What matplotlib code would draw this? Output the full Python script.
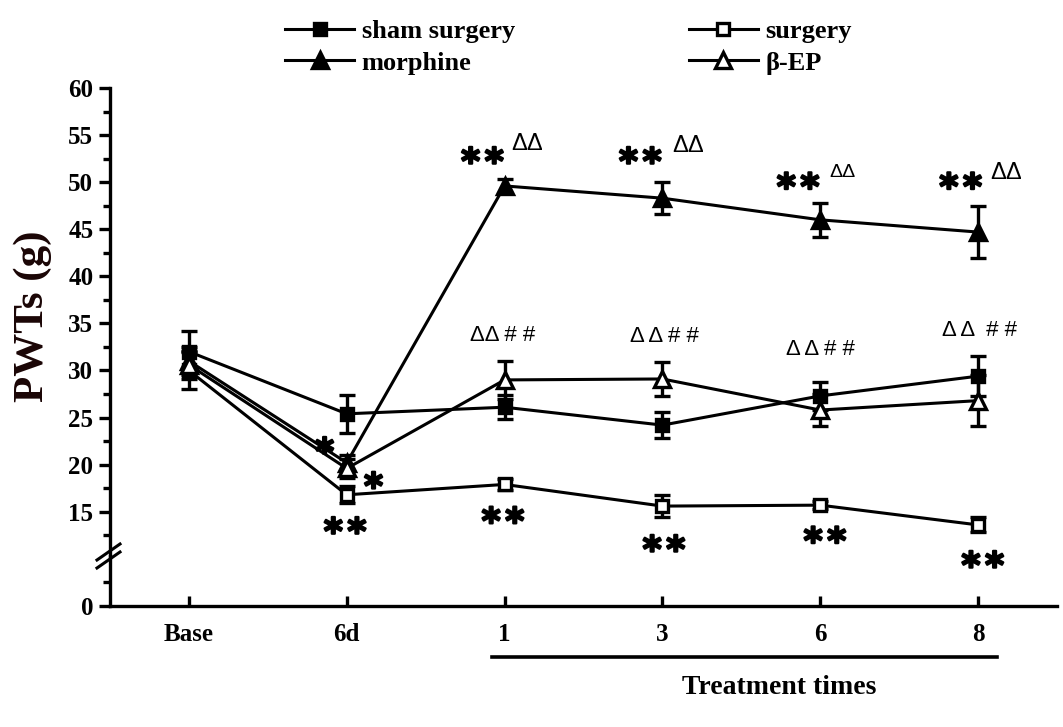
import numpy as np
import matplotlib
matplotlib.use("Agg")
import matplotlib.pyplot as plt
import matplotlib.transforms as mtransforms
import matplotlib.patheffects as pe
from matplotlib.lines import Line2D
from matplotlib.font_manager import FontProperties

times = ['Base', '6d', '1', '3', '6', '8']
sham = [32.0, 25.4, 26.1, 24.2, 27.3, 29.4]
sham_err = [2.2, 2.0, 1.3, 1.4, 1.5, 2.1]
surgery = [30.0, 16.8, 17.9, 15.6, 15.7, 13.6]
surgery_err = [2.0, 0.9, 0.6, 1.2, 0.4, 0.8]
morphine = [31.0, 20.2, 49.6, 48.3, 46.0, 44.7]
morphine_err = [1.5, 0.8, 0.7, 1.7, 1.8, 2.8]
bep = [30.6, 19.6, 29.0, 29.1, 25.8, 26.8]
bep_err = [1.5, 1.0, 2.0, 1.8, 1.7, 2.7]

plt.rcParams['font.family'] = ['Liberation Serif', 'DejaVu Serif']
W, H = 1063, 727
fig = plt.figure(figsize=(W / 100, H / 100), dpi=100)

def fx(px):
    return px / W

def fy(py):
    return 1 - py / H

ax = fig.add_axes([fx(110), fy(556), fx(1057) - fx(110), fy(88) - fy(556)])
ax_lo = fig.add_axes([fx(110), fy(606), fx(1057) - fx(110), fy(556) - fy(606)], sharex=ax)
ax_lo.patch.set_visible(False)

x = np.arange(len(times))
lw = 2.2
series = [
    (sham, sham_err, 's', 'black', 9),
    (surgery, surgery_err, 's', 'white', 8.5),
    (morphine, morphine_err, '^', 'black', 11),
    (bep, bep_err, '^', 'white', 11),
]
for vals, err, m, fc, ms in series:
    ax.errorbar(x, vals, yerr=err, color='black', lw=lw, marker=m, ms=ms,
                mfc=fc, mec='black', mew=2.4, capsize=6, capthick=2.4,
                elinewidth=2.4, clip_on=False, zorder=3)

ax.set_xlim(-0.5, 5.5)
ax.set_ylim(10.3, 60)
ax_lo.set_ylim(0, 5.3)

for a in (ax, ax_lo):
    a.spines['top'].set_visible(False)
    a.spines['right'].set_visible(False)
    a.spines['left'].set_linewidth(2.4)
    a.spines['bottom'].set_linewidth(2.4)
ax.spines['bottom'].set_visible(False)

tick_font = dict(fontsize=18, fontweight='bold')
ax.set_yticks(np.arange(15, 61, 5))
ax.set_yticks(np.arange(12.5, 60, 5), minor=True)
ax.set_yticklabels([str(v) for v in range(15, 61, 5)], **tick_font)
ax.tick_params(axis='y', which='major', length=8, width=2.4, direction='out', pad=4)
ax.tick_params(axis='y', which='minor', length=5, width=2.4, direction='out')
ax.tick_params(axis='x', bottom=False, labelbottom=False)

ax_lo.set_yticks([0])
ax_lo.set_yticks([2.5], minor=True)
ax_lo.set_yticklabels(['0'], **tick_font)
ax_lo.tick_params(axis='y', which='major', length=8, width=2.4, direction='out', pad=4)
ax_lo.tick_params(axis='y', which='minor', length=5, width=2.4, direction='out')
ax_lo.set_xticks(x)
ax_lo.set_xticklabels(times, **tick_font)
ax_lo.tick_params(axis='x', length=7, width=2.4, direction='in', pad=12)

# axis break marks
for d in (-4, 4):
    fig.add_artist(Line2D([fx(97), fx(120)], [fy(564 + d), fy(548 + d)],
                          color='black', lw=2.2))

fig.text(fx(33), fy(316), 'PWTs (g)', rotation=90, ha='center', va='center',
         fontsize=31, fontweight='bold', color='#1a0505')

# treatment bracket
trans = mtransforms.blended_transform_factory(ax_lo.transData, ax_lo.transAxes)
ax_lo.plot([1.92, 5.12], [-1.02, -1.02], transform=trans, color='black', lw=2.6,
           clip_on=False)
ax_lo.text(3.74, -1.64, 'Treatment times', transform=trans, ha='center', va='center',
           fontsize=20, fontweight='bold')

heavy = [pe.withStroke(linewidth=1.6, foreground='black')]


def stars(xp, yp, n, fs=26, gap=17):
    offs = (np.arange(n) - (n - 1) / 2) * gap
    for o in offs:
        ax.annotate('*', (xp, yp), xytext=(o, -0.6 * fs), textcoords='offset points',
                    ha='center', va='baseline', fontsize=fs, fontweight='bold',
                    family='DejaVu Sans', annotation_clip=False, zorder=5,
                    path_effects=heavy)


def marks(xp, yp, s, fs=17):
    ax.text(xp, yp, s, ha='center', va='center', fontsize=fs,
            family=['Liberation Sans', 'DejaVu Sans'], clip_on=False)


# morphine marks
stars(1.86, 53.2, 2)
stars(2.86, 53.2, 2)
stars(3.86, 50.5, 2)
stars(4.89, 50.5, 2)
marks(2.14, 54.0, 'ΔΔ')
marks(3.16, 53.8, 'ΔΔ')
marks(4.14, 51.0, 'ΔΔ', fs=14)
marks(5.18, 51.0, 'ΔΔ')

# beta-EP marks
marks(1.99, 33.7, 'ΔΔ # #', fs=16)
marks(3.01, 33.6, 'Δ Δ # #', fs=16)
marks(4.0, 32.2, 'Δ Δ # #', fs=16)
marks(5.01, 34.3, 'Δ Δ  # #', fs=16)

# 6d marks
stars(0.86, 22.4, 1)
stars(1.17, 18.7, 1)

# surgery marks
stars(0.99, 13.9, 2)
stars(1.99, 15.0, 2)
stars(3.01, 12.0, 2)
stars(4.03, 12.9, 2)
stars(5.03, 10.3, 2)

handles = [
    Line2D([], [], color='black', lw=lw, marker='s', ms=9, mfc='black', mec='black', mew=2.4),
    Line2D([], [], color='black', lw=lw, marker='^', ms=11, mfc='black', mec='black', mew=2.4),
    Line2D([], [], color='black', lw=lw, marker='s', ms=8.5, mfc='white', mec='black', mew=2.4),
    Line2D([], [], color='black', lw=lw, marker='^', ms=11, mfc='white', mec='black', mew=2.4),
]
labels = ['sham surgery', 'morphine', 'surgery', 'β-EP']
fig.legend(handles, labels, ncol=2, loc='center', bbox_to_anchor=(0.535, 0.935),
           frameon=False, prop=FontProperties(family='Liberation Serif', weight='bold', size=19),
           handlelength=2.6, columnspacing=6.6, labelspacing=0.3, handletextpad=0.3)

fig.savefig('out.png', dpi=100)
